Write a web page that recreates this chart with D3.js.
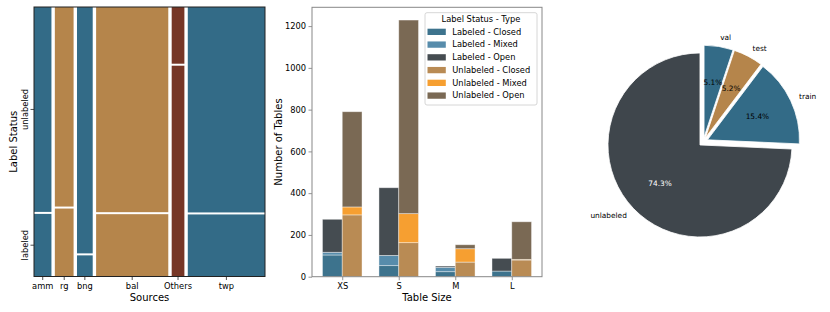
<!DOCTYPE html>
<html>
<head>
<meta charset="utf-8">
<script src="https://cdn.jsdelivr.net/npm/d3@7"></script>
<style>
  body { margin: 0; background: #fff; }
  svg text { font-family: "DejaVu Sans", sans-serif; fill: #000; }
</style>
</head>
<body>
<svg id="fig" width="830" height="312"></svg>
<script>
// mosaic: sources, relative size and share of labeled tables
var sources = ["amm", "rg", "bng", "bal", "Others", "twp"];
var sourceSizes = [17.3, 18.6, 15.6, 71.6, 12.6, 76.6];
var labeledShare = [0.234, 0.254, 0.079, 0.233, 0.788, 0.232];
var statusTicks = ["labeled", "unlabeled"];

// stacked bars per table size
var tableSizes = ["XS", "S", "M", "L"];
var labeledClosed = [104, 53, 24, 27];
var labeledMixed = [13, 49, 21, 0];
var labeledOpen = [158, 324, 6, 61];
var unlabeledClosed = [296, 163, 70, 80];
var unlabeledMixed = [38, 139, 64, 3];
var unlabeledOpen = [456, 927, 19, 180];
var yTicks = [0, 200, 400, 600, 800, 1000, 1200];

// pie of splits
var splitLabels = ["unlabeled", "train", "test", "val"];
var splitShares = [74.3, 15.4, 5.2, 5.1];

var blue = "#336b87", tan = "#b5854b", rust = "#763626";
var sourceColor = {amm: blue, rg: tan, bng: blue, bal: tan, Others: rust, twp: blue};

var svg = d3.select("#fig");

// ---------- mosaic ----------
var mx0 = 34, mx1 = 265, my0 = 7, my1 = 276.5;
var colGap = 3.4, rowGap = 2;
var totalSize = d3.sum(sourceSizes);
var xMos = d3.scaleLinear().domain([0, totalSize])
    .range([mx0, mx1 - colGap * (sources.length - 1)]);

var mosaic = svg.append("g");
var cum = 0;
var cols = sources.map(function (s, i) {
    var c = {name: s, x0: xMos(cum) + i * colGap, share: labeledShare[i]};
    cum += sourceSizes[i];
    c.x1 = xMos(cum) + i * colGap;
    return c;
});
cols.forEach(function (c) {
    var h = (my1 - my0 - rowGap);
    var lab = c.share * h;
    mosaic.append("rect")
        .attr("x", c.x0).attr("width", c.x1 - c.x0)
        .attr("y", my1 - lab).attr("height", lab)
        .attr("fill", sourceColor[c.name]);
    mosaic.append("rect")
        .attr("x", c.x0).attr("width", c.x1 - c.x0)
        .attr("y", my0).attr("height", h - lab)
        .attr("fill", sourceColor[c.name]);
});
mosaic.append("rect")
    .attr("x", mx0).attr("y", my0)
    .attr("width", mx1 - mx0).attr("height", my1 - my0)
    .attr("fill", "none").attr("stroke", "#222").attr("stroke-width", 1);

// x ticks at column centres
cols.forEach(function (c) {
    var cx = (c.x0 + c.x1) / 2;
    mosaic.append("line").attr("x1", cx).attr("x2", cx)
        .attr("y1", my1).attr("y2", my1 + 3.5).attr("stroke", "#222").attr("stroke-width", 0.8);
    mosaic.append("text").attr("x", cx).attr("y", my1 + 12.3)
        .attr("text-anchor", "middle").attr("font-size", 8.3).text(c.name);
});
// y ticks follow first column
var first = cols[0];
var fh = my1 - my0 - rowGap;
var statusPos = {
    labeled: my1 - first.share * fh / 2,
    unlabeled: my0 + (1 - first.share) * fh / 2
};
statusTicks.forEach(function (t) {
    var ty = statusPos[t];
    mosaic.append("line").attr("x1", mx0 - 3.5).attr("x2", mx0)
        .attr("y1", ty).attr("y2", ty).attr("stroke", "#222").attr("stroke-width", 0.8);
    mosaic.append("text")
        .attr("transform", "translate(" + (mx0 - 6) + "," + ty + ") rotate(-90)")
        .attr("text-anchor", "middle").attr("font-size", 8.3).text(t);
});
mosaic.append("text").attr("x", (mx0 + mx1) / 2).attr("y", 300.5)
    .attr("text-anchor", "middle").attr("font-size", 10).text("Sources");
mosaic.append("text")
    .attr("transform", "translate(16.5," + (my0 + my1) / 2 + ") rotate(-90)")
    .attr("text-anchor", "middle").attr("font-size", 10).text("Label Status");

// ---------- stacked bars ----------
var bx0 = 312, bx1 = 542, by0 = 7.3, by1 = 276.7;
var barW = 0.35;
var xBar = d3.scaleLinear().domain([-barW - 0.185, tableSizes.length - 1 + barW + 0.185]).range([bx0, bx1]);
var yBar = d3.scaleLinear().domain([0, 1290]).range([by1, by0]);

var series = [
    {key: "Labeled - Closed", vals: labeledClosed, side: -1, color: "#336b87"},
    {key: "Labeled - Mixed", vals: labeledMixed, side: -1, color: "#4e86a6"},
    {key: "Labeled - Open", vals: labeledOpen, side: -1, color: "#3b4248"},
    {key: "Unlabeled - Closed", vals: unlabeledClosed, side: 1, color: "#b5854b"},
    {key: "Unlabeled - Mixed", vals: unlabeledMixed, side: 1, color: "#f59a26"},
    {key: "Unlabeled - Open", vals: unlabeledOpen, side: 1, color: "#73614b"}
];

var bars = svg.append("g");
var base = {"-1": [0, 0, 0, 0], "1": [0, 0, 0, 0]};
series.forEach(function (s) {
    var b = base[s.side];
    var rows = s.vals.map(function (v, i) { return {i: i, y0: b[i], y1: b[i] + v}; });
    bars.selectAll(null).data(rows).enter().append("rect")
        .attr("x", function (d) { return s.side < 0 ? xBar(d.i - barW) : xBar(d.i); })
        .attr("width", xBar(barW) - xBar(0))
        .attr("y", function (d) { return yBar(d.y1); })
        .attr("height", function (d) { return yBar(d.y0) - yBar(d.y1); })
        .attr("fill", s.color).attr("fill-opacity", 0.95)
        .attr("stroke", "#fff").attr("stroke-opacity", 0.5).attr("stroke-width", 0.8);
    rows.forEach(function (d) { b[d.i] = d.y1; });
});

var yAxis = bars.append("g").attr("transform", "translate(" + bx0 + ",0)")
    .call(d3.axisLeft(yBar).tickValues(yTicks).tickFormat(d3.format("d"))
        .tickSize(3.5).tickPadding(2.5));
var xAxis = bars.append("g").attr("transform", "translate(0," + by1 + ")")
    .call(d3.axisBottom(xBar).tickValues(d3.range(tableSizes.length))
        .tickFormat(function (d) { return tableSizes[d]; }).tickSize(3.5).tickPadding(2.5));
[yAxis, xAxis].forEach(function (a) {
    a.select(".domain").remove();
    a.selectAll("line").attr("stroke", "#777").attr("stroke-width", 0.8);
    a.selectAll("text").attr("font-size", 8.3).attr("font-family", "DejaVu Sans").attr("fill", "#000");
});
bars.append("rect").attr("x", bx0).attr("y", by0)
    .attr("width", bx1 - bx0).attr("height", by1 - by0)
    .attr("fill", "none").attr("stroke", "#888").attr("stroke-width", 1);
bars.append("text").attr("x", (bx0 + bx1) / 2).attr("y", 300.5)
    .attr("text-anchor", "middle").attr("font-size", 10).text("Table Size");
bars.append("text")
    .attr("transform", "translate(282," + (by0 + by1) / 2 + ") rotate(-90)")
    .attr("text-anchor", "middle").attr("font-size", 10).text("Number of Tables");

// legend
var lg = bars.append("g").attr("transform", "translate(425,12.7)");
lg.append("rect").attr("width", 112).attr("height", 92.3).attr("rx", 2)
    .attr("fill", "#fff").attr("fill-opacity", 0.85).attr("stroke", "#ccc").attr("stroke-width", 0.8);
lg.append("text").attr("x", 56).attr("y", 9.8).attr("text-anchor", "middle")
    .attr("font-size", 8.3).text("Label Status - Type");
series.forEach(function (s, i) {
    var ly = 19 + i * 12.75;
    lg.append("rect").attr("x", 2.5).attr("y", ly - 3).attr("width", 18.3).attr("height", 6.3)
        .attr("fill", s.color).attr("fill-opacity", 0.95);
    lg.append("text").attr("x", 27.3).attr("y", ly + 3).attr("font-size", 8.3).text(s.key);
});

// ---------- pie ----------
var pcx = 703.3, pcy = 141.8, pr = 92, explode = 0.05 * pr;
var splitColor = {unlabeled: "#3f464c", train: blue, test: tan, val: blue};
var pie = d3.pie().sort(null).value(function (d) { return d; })
    .startAngle(0).endAngle(-2 * Math.PI);
var arc = d3.arc().innerRadius(0).outerRadius(pr);
var slices = pie(splitShares);
var pg = svg.append("g").attr("transform", "translate(" + pcx + "," + pcy + ")");
slices.forEach(function (d, i) {
    var a = (d.startAngle + d.endAngle) / 2;
    var ux = Math.sin(a), uy = -Math.cos(a);
    var g = pg.append("g").attr("transform", "translate(" + ux * explode + "," + uy * explode + ")");
    g.append("path").attr("d", arc(d)).attr("fill", splitColor[splitLabels[i]])
        .attr("stroke", "#fff").attr("stroke-width", 0.8);
    g.append("text").attr("x", ux * pr * 1.1).attr("y", uy * pr * 1.1)
        .attr("dy", "0.35em").attr("text-anchor", ux > 0 ? "start" : "end")
        .attr("font-size", 7.4).text(splitLabels[i]);
    g.append("text").attr("x", ux * pr * 0.6).attr("y", uy * pr * 0.6)
        .attr("dy", "0.35em").attr("text-anchor", "middle").attr("font-size", 7.4)
        .style("fill", splitLabels[i] === "unlabeled" ? "#fff" : "#000")
        .text(splitShares[i].toFixed(1) + "%");
});
</script>
</body>
</html>
